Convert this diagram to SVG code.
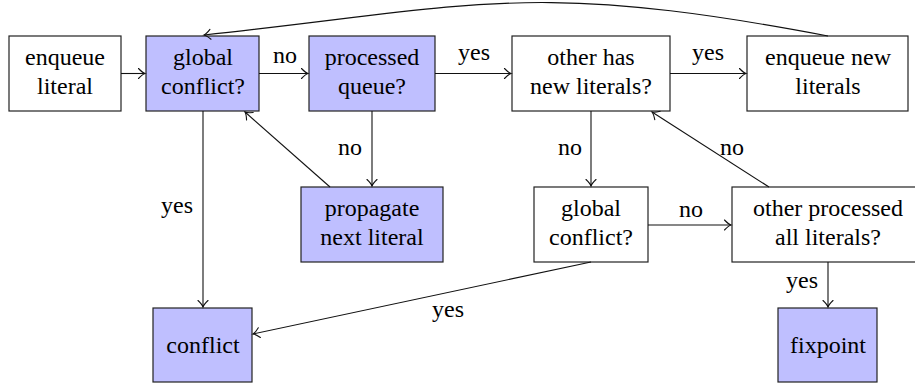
<svg xmlns="http://www.w3.org/2000/svg" width="915" height="383" viewBox="0 0 915 383">
<defs>
<marker id="arr" markerUnits="userSpaceOnUse" markerWidth="14" markerHeight="14" viewBox="-8 -7 10 14" refX="0" refY="0" orient="auto">
<path d="M -6.5 -5 Q -2.5 -0.8 0 0 Q -2.5 0.8 -6.5 5" fill="none" stroke="#111" stroke-width="1.1" stroke-linecap="round"/>
</marker>
</defs>
<rect width="915" height="383" fill="#fff"/>
<g id="n1"><rect x="9" y="36" width="112" height="75" fill="#fff" stroke="#222" stroke-width="1.2"/><text x="65" y="65" font-size="24" font-family="Liberation Serif" text-anchor="middle">enqueue</text><text x="65" y="94" font-size="24" font-family="Liberation Serif" text-anchor="middle">literal</text></g>
<g id="n2"><rect x="146" y="36" width="113" height="75" fill="#bfbfff" stroke="#222" stroke-width="1.2"/><text x="203" y="65" font-size="24" font-family="Liberation Serif" text-anchor="middle">global</text><text x="203" y="94" font-size="24" font-family="Liberation Serif" text-anchor="middle">conflict?</text></g>
<g id="n3"><rect x="309" y="36" width="126" height="75" fill="#bfbfff" stroke="#222" stroke-width="1.2"/><text x="372" y="65" font-size="24" font-family="Liberation Serif" text-anchor="middle">processed</text><text x="372" y="94" font-size="24" font-family="Liberation Serif" text-anchor="middle">queue?</text></g>
<g id="n4"><rect x="512" y="36" width="158" height="75" fill="#fff" stroke="#222" stroke-width="1.2"/><text x="591" y="65" font-size="24" font-family="Liberation Serif" text-anchor="middle">other has</text><text x="591" y="94" font-size="24" font-family="Liberation Serif" text-anchor="middle">new literals?</text></g>
<g id="n5"><rect x="747" y="36" width="161" height="75" fill="#fff" stroke="#222" stroke-width="1.2"/><text x="828" y="65" font-size="24" font-family="Liberation Serif" text-anchor="middle">enqueue new</text><text x="828" y="94" font-size="24" font-family="Liberation Serif" text-anchor="middle">literals</text></g>
<g id="n6"><rect x="301" y="187" width="142" height="75" fill="#bfbfff" stroke="#222" stroke-width="1.2"/><text x="372" y="216" font-size="24" font-family="Liberation Serif" text-anchor="middle">propagate</text><text x="372" y="245" font-size="24" font-family="Liberation Serif" text-anchor="middle">next literal</text></g>
<g id="n7"><rect x="153" y="308" width="99" height="74" fill="#bfbfff" stroke="#222" stroke-width="1.2"/><text x="203" y="353" font-size="24" font-family="Liberation Serif" text-anchor="middle">conflict</text></g>
<g id="n8"><rect x="534" y="187" width="114" height="75" fill="#fff" stroke="#222" stroke-width="1.2"/><text x="591" y="216" font-size="24" font-family="Liberation Serif" text-anchor="middle">global</text><text x="591" y="245" font-size="24" font-family="Liberation Serif" text-anchor="middle">conflict?</text></g>
<g id="n9"><rect x="732" y="187" width="191" height="75" fill="#fff" stroke="#222" stroke-width="1.2"/><text x="828" y="216" font-size="24" font-family="Liberation Serif" text-anchor="middle">other processed</text><text x="828" y="245" font-size="24" font-family="Liberation Serif" text-anchor="middle">all literals?</text></g>
<g id="n10"><rect x="778" y="308" width="99" height="74" fill="#bfbfff" stroke="#222" stroke-width="1.2"/><text x="828" y="353" font-size="24" font-family="Liberation Serif" text-anchor="middle">fixpoint</text></g>
<g id="edges" fill="none" stroke="#111" stroke-width="1.1">
<line x1="121" y1="73.5" x2="145" y2="73.5" marker-end="url(#arr)"/>
<line x1="259" y1="73.5" x2="308" y2="73.5" marker-end="url(#arr)"/>
<line x1="435" y1="73.5" x2="511" y2="73.5" marker-end="url(#arr)"/>
<line x1="670" y1="73.5" x2="746" y2="73.5" marker-end="url(#arr)"/>
<path d="M 828 36 C 528 -21, 475 6, 204 35" marker-end="url(#arr)"/>
<line x1="203" y1="111" x2="203" y2="307" marker-end="url(#arr)"/>
<line x1="372" y1="111" x2="372" y2="186" marker-end="url(#arr)"/>
<line x1="330" y1="187" x2="245" y2="112" marker-end="url(#arr)"/>
<line x1="591" y1="111" x2="591" y2="186" marker-end="url(#arr)"/>
<line x1="769" y1="187" x2="652" y2="112" marker-end="url(#arr)"/>
<line x1="648" y1="225" x2="731" y2="225" marker-end="url(#arr)"/>
<line x1="591" y1="262" x2="253" y2="334" marker-end="url(#arr)"/>
<line x1="828" y1="262" x2="828" y2="307" marker-end="url(#arr)"/>
</g>
<g id="labels">
<text x="285" y="63" font-size="24" font-family="Liberation Serif" text-anchor="middle">no</text>
<text x="474" y="60" font-size="24" font-family="Liberation Serif" text-anchor="middle">yes</text>
<text x="708" y="60" font-size="24" font-family="Liberation Serif" text-anchor="middle">yes</text>
<text x="177" y="213" font-size="24" font-family="Liberation Serif" text-anchor="middle">yes</text>
<text x="350" y="155" font-size="24" font-family="Liberation Serif" text-anchor="middle">no</text>
<text x="570" y="155" font-size="24" font-family="Liberation Serif" text-anchor="middle">no</text>
<text x="732" y="155" font-size="24" font-family="Liberation Serif" text-anchor="middle">no</text>
<text x="691" y="217" font-size="24" font-family="Liberation Serif" text-anchor="middle">no</text>
<text x="802" y="288" font-size="24" font-family="Liberation Serif" text-anchor="middle">yes</text>
<text x="448" y="317" font-size="24" font-family="Liberation Serif" text-anchor="middle">yes</text>
</g>
</svg>
